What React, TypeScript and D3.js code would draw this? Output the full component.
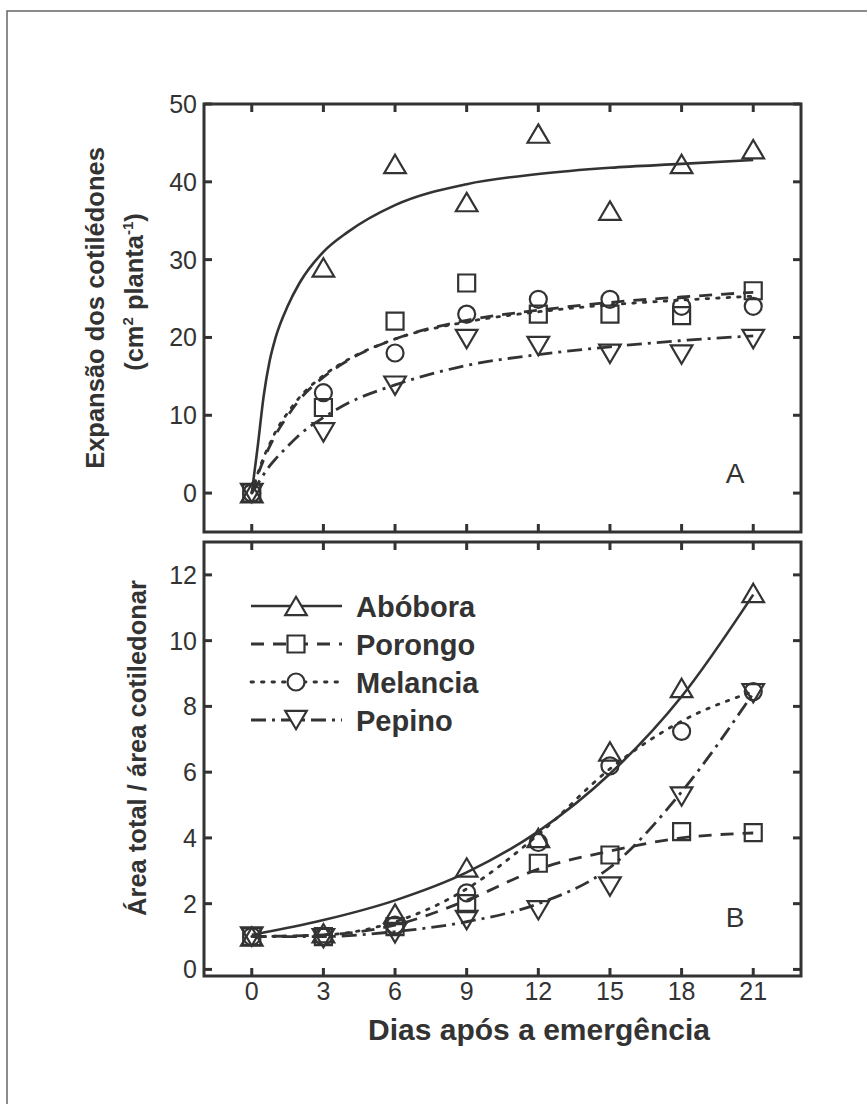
import React, { useEffect, useRef } from 'react';
import * as d3 from 'd3';

// sampling days (both panels)
const days = [0, 3, 6, 9, 12, 15, 18, 21];

// panel A - expansão dos cotilédones (cm2 planta-1), observed
const expAbobora = [0, 29, 42.3, 37.4, 46.2, 36.3, 42.3, 44.2];
const expPorongo = [0, 11, 22.1, 27, 23, 23, 22.8, 26];
const expMelancia = [0, 12.9, 18, 23, 24.9, 24.9, 24, 24];
const expPepino = [0, 7.8, 13.8, 19.8, 18.9, 17.9, 17.8, 19.8];

// panel A - fitted curves
const fitDaysA = [0, 0.25, 0.5, 0.75, 1, 1.5, 2, 3, 4, 6, 9, 12, 15, 18, 21];
const fitExpAbobora = [0, 6, 12.5, 17, 20, 24, 27, 31, 33.5, 37, 39.7, 41, 41.8, 42.3, 42.8];
const fitExpPorongo = [0, 2.3, 4.3, 6, 7.5, 9.9, 12, 14.9, 17, 19.8, 22.2, 23.5, 24.5, 25.2, 25.8];
const fitExpMelancia = [0, 2.5, 4.6, 6.3, 7.9, 10.3, 12.3, 15.1, 17.1, 19.8, 22, 23.3, 24.2, 24.8, 25.3];
const fitExpPepino = [0, 1.2, 2.4, 3.5, 4.4, 6, 7.5, 9.7, 11.5, 13.9, 16.4, 17.8, 18.8, 19.6, 20.2];

// panel B - área total / área cotiledonar, observed
const ratioAbobora = [1.0, 1.1, 1.7, 3.1, 4.0, 6.63, 8.56, 11.45];
const ratioPorongo = [1.0, 1.0, 1.3, 2.0, 3.23, 3.48, 4.19, 4.16];
const ratioMelancia = [1.0, 1.0, 1.35, 2.33, 3.86, 6.19, 7.24, 8.45];
const ratioPepino = [1.0, 0.95, 1.1, 1.5, 1.8, 2.52, 5.26, 8.4];

// panel B - fitted curves
const fitRatioAbobora = [1.05, 1.5, 2.1, 2.95, 4.2, 5.95, 8.3, 11.4];
const fitRatioPorongo = [1.0, 1.05, 1.35, 2.1, 3.05, 3.6, 4.0, 4.15];
const fitRatioMelancia = [1.0, 1.05, 1.45, 2.45, 4.1, 6.1, 7.55, 8.45];
const fitRatioPepino = [1.0, 1.0, 1.15, 1.45, 2.0, 3.1, 5.4, 8.4];

const names = ['Abóbora', 'Porongo', 'Melancia', 'Pepino'];
const ticksA = [0, 10, 20, 30, 40, 50];
const ticksB = [0, 2, 4, 6, 8, 10, 12];

const ink = '#333';
const font = '"Liberation Sans", Arial, sans-serif';

// style per species
const styles = [
  { symbol: 'triangle', dash: null },
  { symbol: 'square', dash: '13,9' },
  { symbol: 'circle', dash: '2.5,8' },
  { symbol: 'invtriangle', dash: '15,6,3,6' },
];

function symbolPath(type: string, cx: number, cy: number) {
  const p = d3.path();
  if (type === 'triangle') {
    p.moveTo(cx, cy - 9.2); p.lineTo(cx + 10.8, cy + 9.2); p.lineTo(cx - 10.8, cy + 9.2); p.closePath();
  } else if (type === 'invtriangle') {
    p.moveTo(cx, cy + 9.2); p.lineTo(cx + 10.8, cy - 9.2); p.lineTo(cx - 10.8, cy - 9.2); p.closePath();
  } else if (type === 'square') {
    p.rect(cx - 8.5, cy - 8.5, 17, 17);
  } else {
    p.moveTo(cx + 8.5, cy); p.arc(cx, cy, 8.5, 0, Math.PI * 2);
  }
  return p.toString();
}

export default function App() {
  const ref = useRef<SVGSVGElement>(null);

  useEffect(() => {
    const svg = d3.select(ref.current);
    svg.selectAll('*').remove();

    const left = 204, right = 801;
    const x = d3.scaleLinear().domain([-2, 23]).range([left, right]);
    const yA = d3.scaleLinear().domain([-5, 50]).range([532, 104]);
    const yB = d3.scaleLinear().domain([-0.2, 13]).range([976, 542]);

    // outer frame
    svg.append('path')
      .attr('d', 'M7,1104 L7,11 L867,11')
      .attr('fill', 'none').attr('stroke', '#666').attr('stroke-width', 1.5);

    const drawPanel = (y: d3.ScaleLinear<number, number>, yTicks: number[],
      obs: number[][], fitX: number[], fits: number[][], letter: string) => {
      const g = svg.append('g');
      const [y0, y1] = y.range();

      // curves
      fits.forEach((f, i) => {
        const line = d3.line<number>()
          .x((d, j) => x(fitX[j]))
          .y(d => y(d))
          .curve(d3.curveMonotoneX);
        g.append('path')
          .attr('d', line(f))
          .attr('fill', 'none')
          .attr('stroke', ink)
          .attr('stroke-width', i === 0 ? 2.6 : 2.8)
          .attr('stroke-dasharray', styles[i].dash)
          .attr('stroke-linecap', i === 2 ? 'round' : 'butt');
      });

      // symbols
      obs.forEach((vals, i) => {
        g.selectAll(null)
          .data(vals)
          .join('path')
          .attr('d', (d, j) => symbolPath(styles[i].symbol, x(days[j]), y(d)))
          .attr('fill', 'none')
          .attr('stroke', ink)
          .attr('stroke-width', 2.2);
      });

      // frame + inward ticks
      g.append('rect')
        .attr('x', left).attr('y', y1)
        .attr('width', right - left).attr('height', y0 - y1)
        .attr('fill', 'none').attr('stroke', ink).attr('stroke-width', 3);
      days.forEach(d => {
        g.append('line').attr('x1', x(d)).attr('x2', x(d)).attr('y1', y1).attr('y2', y1 + 8)
          .attr('stroke', ink).attr('stroke-width', 3);
        g.append('line').attr('x1', x(d)).attr('x2', x(d)).attr('y1', y0).attr('y2', y0 - 8)
          .attr('stroke', ink).attr('stroke-width', 3);
      });
      yTicks.forEach(t => {
        g.append('line').attr('x1', left).attr('x2', left + 8).attr('y1', y(t)).attr('y2', y(t))
          .attr('stroke', ink).attr('stroke-width', 3);
        g.append('line').attr('x1', right).attr('x2', right - 8).attr('y1', y(t)).attr('y2', y(t))
          .attr('stroke', ink).attr('stroke-width', 3);
        g.append('text')
          .attr('x', left - 7).attr('y', y(t)).attr('dy', '0.36em')
          .attr('text-anchor', 'end')
          .attr('font-family', font).attr('font-size', 25).attr('fill', ink)
          .text(t);
      });

      g.append('text')
        .attr('x', 735).attr('y', y0 - 49)
        .attr('text-anchor', 'middle')
        .attr('font-family', font).attr('font-size', 28).attr('fill', ink)
        .text(letter);
    };

    drawPanel(yA, ticksA,
      [expAbobora, expPorongo, expMelancia, expPepino],
      fitDaysA, [fitExpAbobora, fitExpPorongo, fitExpMelancia, fitExpPepino], 'A');
    drawPanel(yB, ticksB,
      [ratioAbobora, ratioPorongo, ratioMelancia, ratioPepino],
      days, [fitRatioAbobora, fitRatioPorongo, fitRatioMelancia, fitRatioPepino], 'B');

    // x tick labels
    days.forEach(d => {
      svg.append('text')
        .attr('x', x(d)).attr('y', 1000)
        .attr('text-anchor', 'middle')
        .attr('font-family', font).attr('font-size', 25).attr('fill', ink)
        .text(d);
    });

    svg.append('text')
      .attr('x', 539).attr('y', 1040)
      .attr('text-anchor', 'middle')
      .attr('font-family', font).attr('font-size', 30).attr('font-weight', 'bold').attr('fill', ink)
      .text('Dias após a emergência');

    // y labels
    svg.append('text')
      .attr('transform', 'translate(104,308) rotate(-90)')
      .attr('text-anchor', 'middle')
      .attr('font-family', font).attr('font-size', 25.5).attr('font-weight', 'bold').attr('fill', ink)
      .text('Expansão dos cotilédones');

    const l2 = svg.append('text')
      .attr('transform', 'translate(143,292) rotate(-90)')
      .attr('text-anchor', 'middle')
      .attr('font-family', font).attr('font-size', 25.5).attr('font-weight', 'bold').attr('fill', ink);
    l2.append('tspan').text('(cm');
    l2.append('tspan').attr('font-size', 15).attr('dy', -10).text('2');
    l2.append('tspan').attr('dy', 10).text(' planta');
    l2.append('tspan').attr('font-size', 15).attr('dy', -10).text('-1');
    l2.append('tspan').attr('dy', 10).text(')');

    svg.append('text')
      .attr('transform', 'translate(146,748) rotate(-90)')
      .attr('text-anchor', 'middle')
      .attr('font-family', font).attr('font-size', 25.5).attr('font-weight', 'bold').attr('fill', ink)
      .text('Área total / área cotiledonar');

    // legend
    const leg = svg.append('g');
    names.forEach((n, i) => {
      const ly = 606 + i * 38;
      leg.append('line')
        .attr('x1', 251).attr('x2', 342).attr('y1', ly).attr('y2', ly)
        .attr('stroke', ink).attr('stroke-width', i === 0 ? 2.6 : 2.8)
        .attr('stroke-dasharray', styles[i].dash)
        .attr('stroke-linecap', i === 2 ? 'round' : 'butt');
      leg.append('path')
        .attr('d', symbolPath(styles[i].symbol, 296, ly))
        .attr('fill', 'white').attr('stroke', ink).attr('stroke-width', 2.2);
      leg.append('text')
        .attr('x', 356).attr('y', ly + 11)
        .attr('font-family', font).attr('font-size', 29).attr('font-weight', 'bold').attr('fill', ink)
        .text(n);
    });
  }, []);

  return (
    <div>
      <svg ref={ref} width={867} height={1104} style={{ display: 'block', position: 'absolute', left: 0, top: 0 }} />
    </div>
  );
}
